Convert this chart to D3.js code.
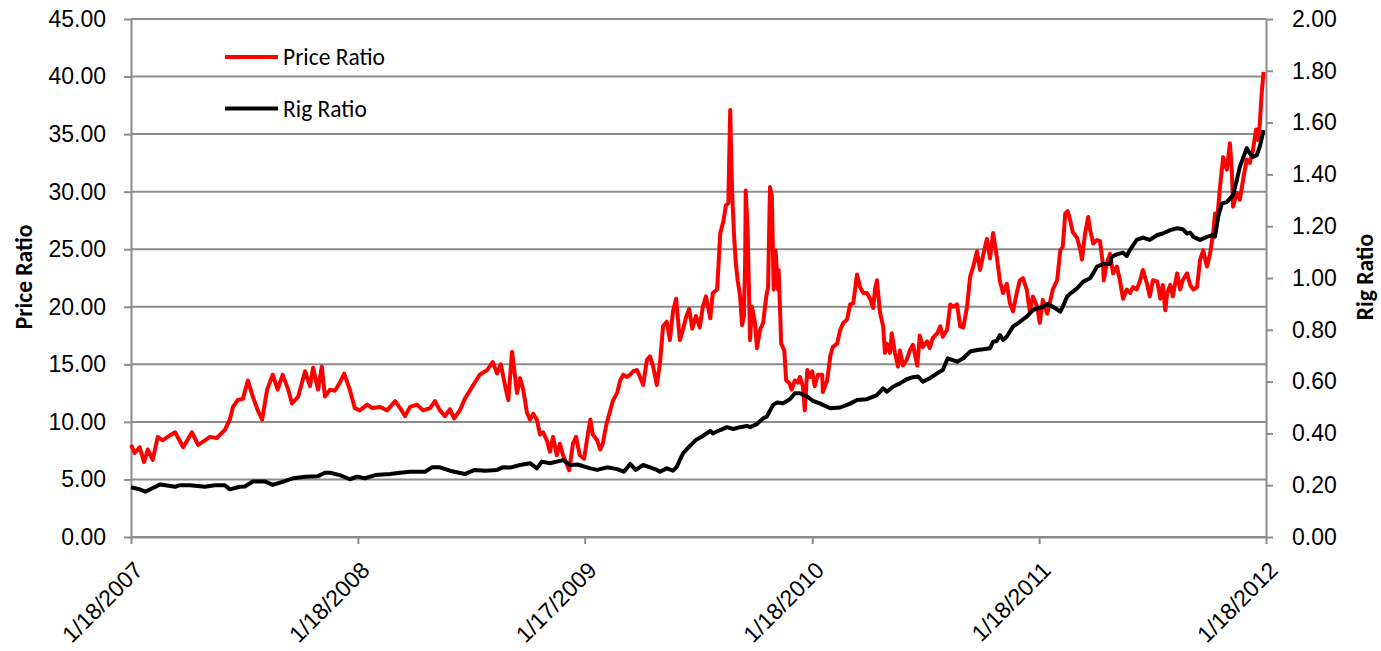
<!DOCTYPE html>
<meta charset="utf-8">
<style>
body { margin: 0; background: #fff; }
svg { font-family: Carlito, Calibri, Lato, sans-serif; }
.axis text { font-size: 23px; fill: #000; }
.axis path, .axis line { stroke: #8c8c8c; stroke-width: 2px; }
.grid line { stroke: #8c8c8c; stroke-width: 2px; }
.title { font-size: 23.5px; font-weight: bold; fill: #000; }
.legend text { font-size: 23.5px; fill: #000; }
</style>
<svg width="1381" height="651"></svg>
<script src="https://d3js.org/d3.v7.min.js"></script>
<script>

// day offsets are counted from 1/18/2007
var startDate = new Date(2007, 0, 18),
    endDate = new Date(2012, 0, 18);

var priceTicks = [0, 5, 10, 15, 20, 25, 30, 35, 40, 45];
var rigTicks = [0, 0.2, 0.4, 0.6, 0.8, 1.0, 1.2, 1.4, 1.6, 1.8, 2.0];
var dateTicks = ["2007-01-18", "2008-01-18", "2009-01-17", "2010-01-18", "2011-01-18", "2012-01-18"];

// [day, price ratio]
var priceRatio = [
  [0,8.0],[6,7.3],[14,7.8],[21,6.5],[27,7.6],[35,6.7],[43,8.7],[51,8.4],[59,8.7],[71,9.1],[84,7.8],[98,9.1],
  [108,8.0],[119,8.4],[127,8.7],[138,8.6],[151,9.3],[159,10.2],[164,11.3],[172,11.9],[180,12.0],[188,13.6],
  [196,12.2],[204,11.0],[211,10.2],[219,12.8],[228,14.1],[236,12.8],[244,14.1],[253,12.8],[259,11.6],[269,12.2],
  [280,14.4],[288,13.1],[293,14.7],[301,12.8],[307,14.8],
  [312,12.2],[320,12.8],[328,12.7],[336,13.4],[343,14.2],[352,12.8],[360,11.2],[368,11.0],[380,11.5],[388,11.2],
  [401,11.3],[412,11.0],[425,11.8],[433,11.2],[441,10.5],[449,11.3],[460,11.5],[470,11.0],[481,11.2],[489,11.8],
  [497,11.0],[505,10.5],[513,11.1],[520,10.3],[529,11.0],[537,12.0],[545,12.7],[553,13.4],[561,14.1],[573,14.5],
  [582,15.2],[589,14.2],[595,15.0],[602,13.1],[607,11.9],[613,16.1],[618,13.9],[621,12.5],[626,13.8],[631,12.8],
  [637,10.8],[642,10.2],[647,10.7],[653,10.2],[658,8.9],[663,9.1],[669,8.4],[674,7.4],[679,8.7],[685,7.1],
  [690,8.1],[695,7.1],[700,6.5],[705,5.8],[711,8.1],[716,8.7],[722,7.1],[729,6.8],
  [734,8.6],[739,10.2],[743,8.9],[750,8.4],[755,7.6],[759,8.1],[764,9.6],[771,11.0],[775,11.8],[782,12.5],
  [787,13.6],[792,14.1],[798,13.9],[803,14.1],[808,14.4],[814,14.5],[819,13.9],[824,13.2],[830,15.4],[835,15.7],
  [840,14.8],[846,13.2],[851,15.1],[856,18.3],[862,18.7],[867,17.1],[872,19.6],[877,20.7],[883,17.1],[888,18.0],
  [893,19.1],[898,19.8],[903,18.1],[909,19.2],[915,18.2],[920,20.0],[925,20.9],[932,19.0],[936,21.2],[943,21.5],
  [948,26.4],[953,27.4],[957,28.8],[961,29.0],[964,37.1],[967,30.1],[970,26.4],[973,23.8],[976,22.3],[980,20.9],
  [983,18.4],[986,19.1],[988,23.8],[989,30.1],[992,26.7],[996,17.1],[999,20.0],[1004,18.6],[1007,16.4],[1012,18.0],
  [1017,18.6],[1022,20.9],[1025,21.7],[1028,30.4],[1031,29.6],[1034,21.5],[1037,24.9],[1041,21.5],[1042,23.2],
  [1046,16.8],[1051,16.2],[1054,13.6],[1059,13.4],[1063,12.8],[1068,13.6],[1073,13.4],[1076,13.9],[1081,13.1],
  [1084,11.0],[1088,14.5],[1092,13.9],
  [1096,14.4],[1100,13.1],[1105,14.1],[1112,14.1],[1113,12.6],[1120,13.6],[1125,15.7],[1129,16.5],[1136,16.8],
  [1141,18.0],[1146,18.6],[1152,18.9],[1157,20.2],[1162,20.3],[1168,22.8],[1173,21.7],[1178,21.2],[1184,21.2],
  [1189,20.7],[1194,19.9],[1197,21.5],[1200,22.3],[1205,19.5],[1210,18.3],[1213,16.0],[1216,16.8],[1221,16.0],
  [1224,17.7],[1229,16.0],[1234,14.8],[1237,16.2],[1242,14.9],[1248,15.4],[1253,16.2],[1258,16.7],[1265,14.9],
  [1269,17.5],[1274,16.5],[1281,17.0],[1285,16.4],[1290,17.3],[1297,17.7],[1302,18.3],[1306,17.4],[1313,18.0],
  [1318,20.2],[1323,20.0],[1329,20.2],[1334,18.3],[1339,18.2],[1345,20.0],[1350,22.6],[1355,23.5],[1361,24.8],
  [1366,23.2],[1371,24.5],[1377,25.9],[1382,24.2],[1387,26.4],[1393,24.3],[1398,22.2],[1403,21.2],[1409,22.0],
  [1414,20.3],[1419,19.6],[1425,21.2],[1430,22.3],[1435,22.5],[1441,21.5],[1446,19.6],[1451,20.9],[1458,20.0],
  [1462,18.6],[1467,20.6],[1474,19.4],[1478,20.3],[1483,21.5],[1490,22.3],[1495,24.9],[1499,25.2],[1503,28.1],
  [1507,28.3],[1511,27.5],[1515,26.5],[1522,26.0],[1527,25.0],[1530,24.1],[1535,26.4],[1540,27.8],[1543,26.7],
  [1548,25.5],[1554,25.8],[1559,25.7],[1564,23.5],[1565,22.3],[1570,23.8],[1575,24.6],[1580,22.9],[1586,23.5],
  [1591,22.3],[1596,20.7],[1602,21.5],[1607,21.2],[1612,21.7],[1618,21.5],[1623,22.2],[1628,23.2],[1635,21.9],
  [1639,20.9],[1644,22.3],[1651,22.2],[1656,20.7],[1660,21.9],[1664,19.7],[1667,21.2],[1672,21.9],[1676,20.9],
  [1683,22.9],[1688,21.5],[1692,22.3],[1699,22.9],[1704,21.9],[1709,21.5],[1715,21.7],[1720,24.1],[1725,24.9],
  [1731,23.5],[1736,24.6],[1741,26.4],[1744,28.1],[1747,27.3],[1752,30.4],[1757,33.0],[1763,31.9],[1768,34.2],
  [1771,31.9],[1773,28.7],[1779,29.9],[1784,29.3],[1789,31.0],[1795,32.8],[1800,32.5],[1805,33.6],[1810,35.4],
  [1813,34.5],[1816,35.9],[1819,38.5],[1822,40.4]
];

// [day, rig ratio]
var rigRatio = [
  [0,0.192],[14,0.184],[23,0.175],[47,0.203],[71,0.194],[79,0.200],[95,0.200],[119,0.194],[135,0.200],[151,0.200],
  [159,0.184],[175,0.194],[183,0.195],[196,0.214],[216,0.214],[228,0.201],[245,0.214],[261,0.227],[280,0.233],
  [301,0.235],[312,0.248],[320,0.248],[336,0.239],[352,0.223],[364,0.233],[376,0.227],[393,0.239],[417,0.243],
  [433,0.248],[449,0.252],[473,0.252],[484,0.269],[497,0.269],[513,0.256],[537,0.243],[553,0.259],[570,0.256],
  [589,0.259],[598,0.269],[610,0.268],[626,0.278],[642,0.285],[653,0.265],[661,0.291],[674,0.285],[695,0.297],
  [706,0.278],[718,0.280],[727,0.274],[739,0.265],[750,0.259],[766,0.269],[782,0.262],[793,0.252],[803,0.282],
  [812,0.259],[824,0.278],[835,0.269],[846,0.259],[851,0.252],[862,0.265],[872,0.256],[878,0.271],[888,0.323],
  [898,0.349],[909,0.375],[920,0.390],[932,0.410],[936,0.400],[948,0.413],[959,0.424],[969,0.417],[980,0.424],
  [991,0.429],[996,0.424],[1007,0.436],[1017,0.458],[1023,0.465],[1033,0.510],[1039,0.519],[1049,0.516],
  [1060,0.532],[1068,0.555],[1076,0.555],[1088,0.542],[1097,0.526],[1108,0.516],[1125,0.497],[1141,0.500],
  [1157,0.515],[1168,0.529],[1184,0.532],[1200,0.548],[1210,0.574],[1216,0.561],[1226,0.580],[1237,0.593],
  [1248,0.609],[1258,0.617],[1266,0.620],[1274,0.600],[1285,0.613],[1297,0.632],[1306,0.645],[1314,0.690],
  [1329,0.677],[1339,0.690],[1350,0.716],[1361,0.722],[1371,0.725],[1382,0.729],[1387,0.754],[1393,0.757],
  [1398,0.780],[1403,0.761],[1409,0.774],[1419,0.812],[1430,0.831],[1441,0.851],[1451,0.876],[1458,0.883],
  [1467,0.889],[1474,0.900],[1483,0.889],[1495,0.870],[1499,0.889],[1506,0.928],[1511,0.940],[1522,0.960],
  [1532,0.986],[1543,0.999],[1548,1.018],[1554,1.044],[1564,1.054],[1575,1.054],[1578,1.082],[1586,1.091],
  [1596,1.098],[1602,1.085],[1607,1.108],[1618,1.147],[1628,1.156],[1639,1.147],[1651,1.166],[1660,1.172],
  [1672,1.185],[1683,1.192],[1692,1.188],[1699,1.172],[1704,1.175],[1709,1.159],[1720,1.147],[1731,1.159],
  [1741,1.166],[1744,1.160],[1749,1.237],[1755,1.288],[1763,1.293],[1773,1.320],[1779,1.378],[1784,1.430],
  [1795,1.501],[1800,1.481],[1805,1.468],[1811,1.474],[1816,1.507],[1822,1.571]
];

var svg = d3.select("svg"),
    margin = {left: 131, right: 115, top: 19, bottom: 114},
    width = +svg.attr("width"),
    height = +svg.attr("height");

var x = d3.scaleTime()
    .domain([startDate, endDate])
    .range([margin.left, width - margin.right]);

var yPrice = d3.scaleLinear()
    .domain([0, 45])
    .range([height - margin.bottom, margin.top]);

var yRig = d3.scaleLinear()
    .domain([0, 2])
    .range([height - margin.bottom, margin.top]);

function toDate(d) { return d3.timeDay.offset(startDate, d); }

// horizontal gridlines
svg.append("g")
    .attr("class", "grid")
  .selectAll("line")
  .data(priceTicks)
  .enter().append("line")
    .attr("x1", margin.left)
    .attr("x2", width - margin.right)
    .attr("y1", function(d) { return yPrice(d); })
    .attr("y2", function(d) { return yPrice(d); });

// axes
svg.append("g")
    .attr("class", "axis")
    .attr("transform", "translate(" + margin.left + ",0)")
    .call(d3.axisLeft(yPrice)
      .tickValues(priceTicks)
      .tickFormat(d3.format(".2f"))
      .tickSize(7).tickSizeOuter(0).tickPadding(18));

svg.append("g")
    .attr("class", "axis")
    .attr("transform", "translate(" + (width - margin.right) + ",0)")
    .call(d3.axisRight(yRig)
      .tickValues(rigTicks)
      .tickFormat(d3.format(".2f"))
      .tickSize(7).tickSizeOuter(0).tickPadding(19));

var parseDay = d3.timeParse("%Y-%m-%d");
var xAxis = svg.append("g")
    .attr("class", "axis")
    .attr("transform", "translate(0," + (height - margin.bottom) + ")")
    .call(d3.axisBottom(x)
      .tickValues(dateTicks.map(parseDay))
      .tickFormat(d3.timeFormat("%-m/%-d/%Y"))
      .tickSize(7).tickSizeOuter(0));

xAxis.selectAll("text")
    .attr("text-anchor", "end")
    .attr("dy", "0.35em")
    .attr("y", 0)
    .attr("transform", "translate(7,29) rotate(-45)");

// series
var priceLine = d3.line()
    .x(function(d) { return x(toDate(d[0])); })
    .y(function(d) { return yPrice(d[1]); });

var rigLine = d3.line()
    .x(function(d) { return x(toDate(d[0])); })
    .y(function(d) { return yRig(d[1]); });

svg.append("path")
    .datum(priceRatio)
    .attr("fill", "none")
    .attr("stroke", "#ff0000")
    .attr("stroke-width", 4)
    .attr("stroke-linejoin", "round")
    .attr("d", priceLine);

svg.append("path")
    .datum(rigRatio)
    .attr("fill", "none")
    .attr("stroke", "#000")
    .attr("stroke-width", 4)
    .attr("stroke-linejoin", "round")
    .attr("d", rigLine);

// axis titles
svg.append("text")
    .attr("class", "title")
    .attr("text-anchor", "middle")
    .attr("dy", "0.35em")
    .attr("transform", "translate(24,277) rotate(-90)")
    .text("Price Ratio");

svg.append("text")
    .attr("class", "title")
    .attr("text-anchor", "middle")
    .attr("dy", "0.35em")
    .attr("transform", "translate(1365,277) rotate(-90)")
    .text("Rig Ratio");

// legend
var legendItems = [
  {name: "Price Ratio", color: "#ff0000"},
  {name: "Rig Ratio", color: "#000"}
];

var legend = svg.append("g")
    .attr("class", "legend")
  .selectAll("g")
  .data(legendItems)
  .enter().append("g")
    .attr("transform", function(d, i) { return "translate(225," + (57 + i * 51.5) + ")"; });

legend.append("line")
    .attr("x1", 0).attr("x2", 53)
    .attr("stroke", function(d) { return d.color; })
    .attr("stroke-width", 4);

legend.append("text")
    .attr("x", 58)
    .attr("dy", "0.35em")
    .text(function(d) { return d.name; });

</script>
